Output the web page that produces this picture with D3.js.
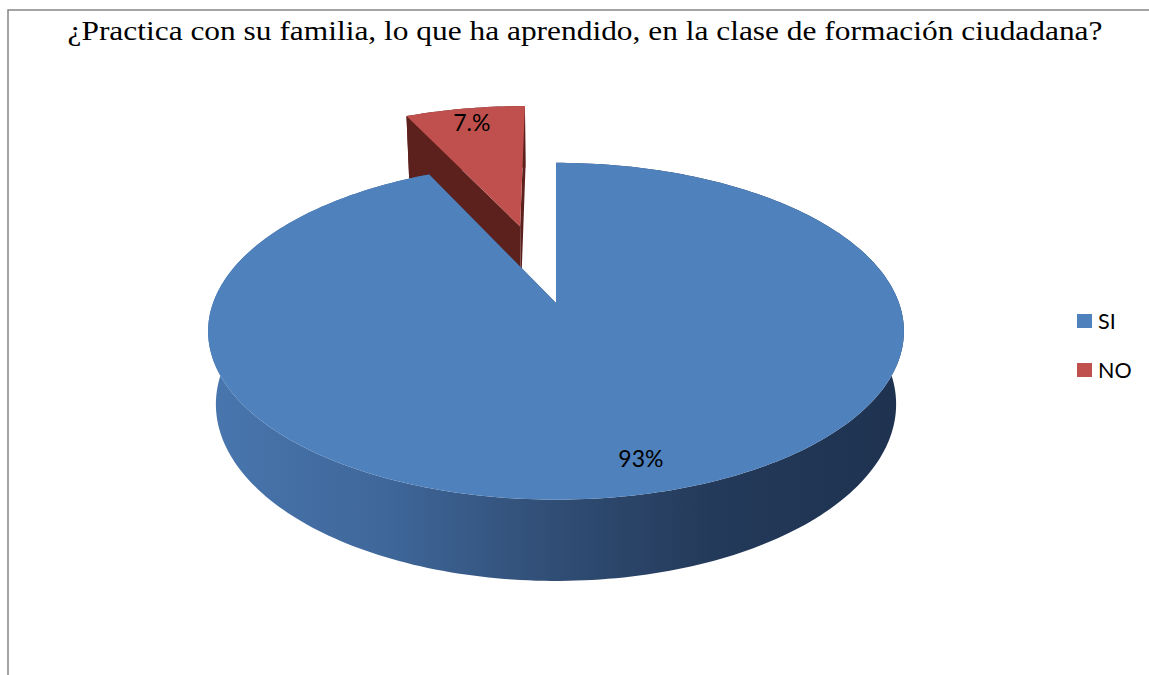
<!DOCTYPE html>
<html>
<head>
<meta charset="utf-8">
<script src="https://cdn.jsdelivr.net/npm/d3@7"></script>
<style>
  body { margin: 0; background: #fff; }
  #chart { width: 1149px; height: 675px; }
</style>
</head>
<body>
<div id="chart"></div>
<script>
// data
const titleText = "¿Practica con su familia, lo que ha aprendido, en la clase de formación ciudadana?";
const categories = ["SI", "NO"];
const values = [93, 7];
const labels = ["93%", "7.%"];
const explode = [0, 0.52];     // fraction of radius the slice is pulled out
const topColors = ["#4f81bd", "#c0504d"];
const wallColors = ["#2f4c73", "#5c201d"];

const width = 1149, height = 675;

const svg = d3.select("#chart")
  .append("svg")
  .attr("width", width)
  .attr("height", height);

// frame (only the top and left edges show in the picture)
svg.append("path")
  .attr("d", `M8,${height} L8,10 L${width},10`)
  .attr("fill", "none")
  .attr("stroke", "#868686")
  .attr("stroke-width", 1.5);

svg.append("text")
  .attr("x", 585)
  .attr("y", 40)
  .attr("text-anchor", "middle")
  .attr("font-family", "'Liberation Serif', 'Times New Roman', serif")
  .attr("font-size", 27.5)
  .attr("textLength", 1035)
  .attr("lengthAdjust", "spacingAndGlyphs")
  .attr("fill", "#000")
  .text(titleText);

// simple perspective camera for the 3d pie
const cx = 556, cy = 303, S = 343;
const tilt = 28.5 * Math.PI / 180;
const D = 5.24;        // camera distance (in radii)
const depth = 0.245;   // pie thickness (in radii)
const sinT = Math.sin(tilt), cosT = Math.cos(tilt);

function proj(X, Z, Y) {
  const v = Z * sinT + Y * cosT;
  const w = Z * cosT - Y * sinT;
  const k = D / (D + w);
  return [cx + S * X * k, cy - S * v * k];
}

const pie = d3.pie().sort(null).value(d => d);
const arcs = pie(values);

const line = d3.line().curve(d3.curveLinear);

function arcPoints(a0, a1, ox, oz, Y) {
  const n = Math.max(4, Math.ceil((a1 - a0) / 0.02));
  return d3.range(n + 1).map(i => {
    const a = a0 + (a1 - a0) * i / n;
    return proj(ox + Math.sin(a), oz + Math.cos(a), Y);
  });
}

// side shading, light on the left and dark navy on the right
const defs = svg.append("defs");
const grad = defs.append("linearGradient")
  .attr("id", "sideBlue")
  .attr("gradientUnits", "userSpaceOnUse")
  .attr("x1", 210).attr("x2", 905).attr("y1", 0).attr("y2", 0);
const stops = [[0, "#4876ae"], [0.25, "#3f679a"], [0.5, "#304d74"], [0.72, "#243a5a"], [1, "#1e3250"]];
stops.forEach(s => grad.append("stop").attr("offset", s[0]).attr("stop-color", s[1]));
const sideFills = ["url(#sideBlue)", wallColors[1]];

const g = svg.append("g");

// draw far slice first (NO), then SI
const order = [1, 0];
order.forEach(i => {
  const d = arcs[i];
  const mid = (d.startAngle + d.endAngle) / 2;
  const ox = explode[i] * Math.sin(mid), oz = explode[i] * Math.cos(mid);
  const sg = g.append("g").attr("class", "slice-" + categories[i]);

  // outer wall
  const topArc = arcPoints(d.startAngle, d.endAngle, ox, oz, 0);
  const botArc = arcPoints(d.startAngle, d.endAngle, ox, oz, -depth).reverse();
  sg.append("path")
    .attr("d", line(topArc.concat(botArc)) + "Z")
    .attr("fill", sideFills[i]);

  // cut walls
  const cuts = [d.startAngle, d.endAngle];
  cuts.forEach(a => {
    const pts = [
      proj(ox, oz, 0),
      proj(ox + Math.sin(a), oz + Math.cos(a), 0),
      proj(ox + Math.sin(a), oz + Math.cos(a), -depth),
      proj(ox, oz, -depth)
    ];
    sg.append("path")
      .attr("d", line(pts) + "Z")
      .attr("fill", wallColors[i]);
  });

  // top face
  sg.append("path")
    .attr("d", line([proj(ox, oz, 0)].concat(topArc)) + "Z")
    .attr("fill", topColors[i]);
});

// data labels
const labelRadius = [0.84, 0.86];
const labelNudge = [12, 0];
arcs.forEach((d, i) => {
  const mid = (d.startAngle + d.endAngle) / 2;
  const r = explode[i] + labelRadius[i];
  const p = proj(r * Math.sin(mid), r * Math.cos(mid), 0);
  svg.append("text")
    .attr("x", p[0] + labelNudge[i])
    .attr("y", p[1])
    .attr("dy", "0.35em")
    .attr("text-anchor", "middle")
    .attr("font-family", "Lato, 'Open Sans', sans-serif")
    .attr("font-size", 23)
    .attr("fill", "#000")
    .text(labels[i]);
});

// legend
const legend = svg.append("g").attr("transform", "translate(1077,314)");
const item = legend.selectAll("g")
  .data(categories)
  .join("g")
  .attr("transform", (d, i) => `translate(0,${i * 49})`);
item.append("rect")
  .attr("width", 15)
  .attr("height", 14)
  .attr("fill", (d, i) => topColors[i]);
item.append("text")
  .attr("x", 21)
  .attr("y", 14.5)
  .attr("font-family", "Lato, 'Open Sans', sans-serif")
  .attr("font-size", 21.5)
  .attr("fill", "#000")
  .text(d => d);
</script>
</body>
</html>
